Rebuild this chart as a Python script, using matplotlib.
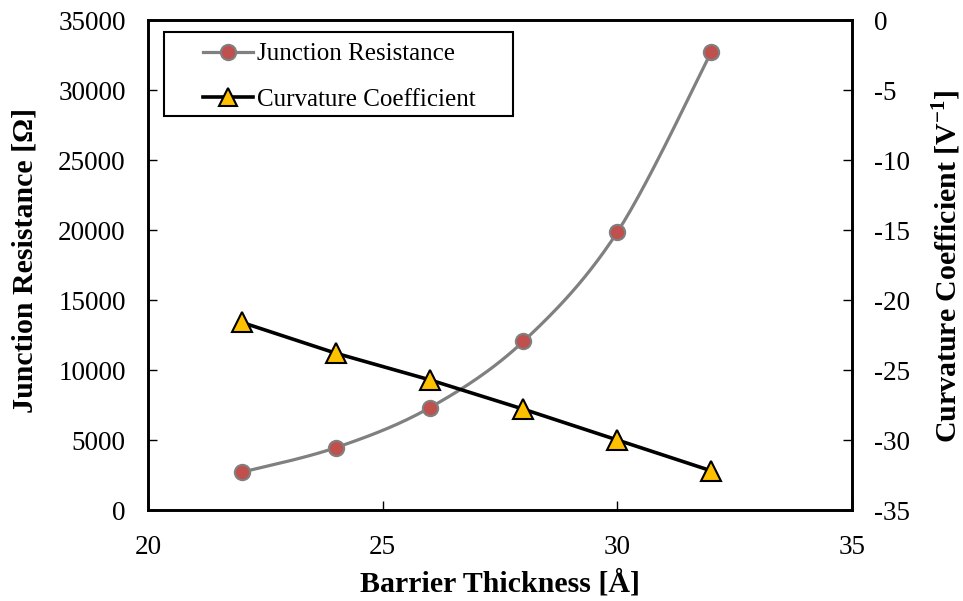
import numpy as np
import matplotlib
matplotlib.use("Agg")
import matplotlib.pyplot as plt
from matplotlib.lines import Line2D
from matplotlib.patches import Rectangle

plt.rcParams['font.family'] = ['Liberation Serif', 'DejaVu Serif']
plt.rcParams['mathtext.fontset'] = 'custom'
plt.rcParams['mathtext.rm'] = 'Liberation Serif'
plt.rcParams['mathtext.bf'] = 'Liberation Serif:bold'
plt.rcParams['axes.unicode_minus'] = False

thickness = [22, 24, 26, 28, 30, 32]
resistance = [2700, 4450, 7300, 12050, 19850, 32700]
curvature = [-21.6, -23.8, -25.7, -27.8, -30.0, -32.2]

x_ticks = [20, 25, 30, 35]
left_ticks = [0, 5000, 10000, 15000, 20000, 25000, 30000, 35000]
right_ticks = [-35, -30, -25, -20, -15, -10, -5, 0]

W, H = 963, 601


def smooth(xs, ys, n=30):
    # Excel-like smoothed line (Bezier segments through the points)
    xs = np.asarray(xs, float); ys = np.asarray(ys, float)
    px, py = [], []
    for i in range(len(xs) - 1):
        x0, y0 = (xs[i - 1], ys[i - 1]) if i > 0 else (xs[i], ys[i])
        x1, y1 = xs[i], ys[i]
        x2, y2 = xs[i + 1], ys[i + 1]
        x3, y3 = (xs[i + 2], ys[i + 2]) if i + 2 < len(xs) else (xs[i + 1], ys[i + 1])
        c1x = x1 + (x2 - x0) / 6; c1y = y1 + (y2 - y0) / 6
        c2x = x2 - (x3 - x1) / 6; c2y = y2 - (y3 - y1) / 6
        t = np.linspace(0, 1, n)
        bx = (1 - t) ** 3 * x1 + 3 * (1 - t) ** 2 * t * c1x + 3 * (1 - t) * t ** 2 * c2x + t ** 3 * x2
        by = (1 - t) ** 3 * y1 + 3 * (1 - t) ** 2 * t * c1y + 3 * (1 - t) * t ** 2 * c2y + t ** 3 * y2
        px.extend(bx); py.extend(by)
    return np.array(px), np.array(py)


fig = plt.figure(figsize=(W / 100, H / 100), dpi=100)
L, R, T, B = 148, 852, 20, 510
ax = fig.add_axes([L / W, 1 - B / H, (R - L) / W, (B - T) / H])
ax2 = ax.twinx()

sx, sy = smooth(thickness, resistance)
ax.plot(sx, sy, color='#808080', lw=2.3, zorder=2)
ax.plot(thickness, resistance, ls='none', marker='o', ms=11, mfc='#C0504D',
        mec='#808080', mew=1.5, zorder=3)

ax2.plot(thickness, curvature, color='black', lw=2.6, marker='^', ms=14.5,
         mfc='#FFC000', mec='black', mew=1.5, zorder=3)

ax.set_xlim(20, 35)
ax.set_ylim(0, 35000)
ax2.set_ylim(-35, 0)
ax.set_xticks(x_ticks)
ax.set_yticks(left_ticks)
ax2.set_yticks(right_ticks)

for a in (ax, ax2):
    a.tick_params(direction='in', length=6.5, width=1.0, labelsize=19.5)
    for s in a.spines.values():
        s.set_linewidth(1.9)
ax.tick_params(axis='x', pad=18)
ax.tick_params(axis='y', pad=16)
ax2.tick_params(axis='y', pad=16)

ax.set_xlabel('Barrier Thickness [Å]', fontsize=21.5, fontweight='bold')
ax.set_ylabel('Junction Resistance [Ω]', fontsize=21.5, fontweight='bold')
ax2.set_ylabel(r'Curvature Coefficient [V$^{\mathbf{-1}}$]', fontsize=21.5,
               fontweight='bold', rotation=90)
ax.xaxis.set_label_coords((500 - L) / (R - L), (B - 584) / (B - T))
ax.xaxis.label.set_verticalalignment('center')
ax.yaxis.set_label_coords((25 - L) / (R - L), (B - 260) / (B - T))
ax.yaxis.label.set_verticalalignment('center')
ax2.yaxis.set_label_coords((946 - L) / (R - L), (B - 266) / (B - T))
ax2.yaxis.label.set_verticalalignment('center')

# legend frame (Excel-style wide padding)
frame = Rectangle((164 / W, 1 - 116 / H), 349 / W, 84 / H, transform=fig.transFigure,
                  facecolor='white', edgecolor='black', lw=1.5, zorder=4)
fig.add_artist(frame)

h1 = Line2D([], [], color='#808080', lw=2.3, marker='o', ms=11, mfc='#C0504D', mec='#808080', mew=1.5)
h2 = Line2D([], [], color='black', lw=2.6, marker='^', ms=13, mfc='#FFC000', mec='black', mew=1.5)
leg = fig.legend([h1, h2], ['Junction Resistance', 'Curvature Coefficient'],
                 loc='upper left', bbox_to_anchor=(203 / W, 1 - 43 / H),
                 bbox_transform=fig.transFigure, fontsize=18, frameon=False,
                 handlelength=2.0, borderpad=0, borderaxespad=0,
                 labelspacing=0.9, handletextpad=0.15)
leg.set_zorder(6)

fig.savefig('out.png', dpi=100)
